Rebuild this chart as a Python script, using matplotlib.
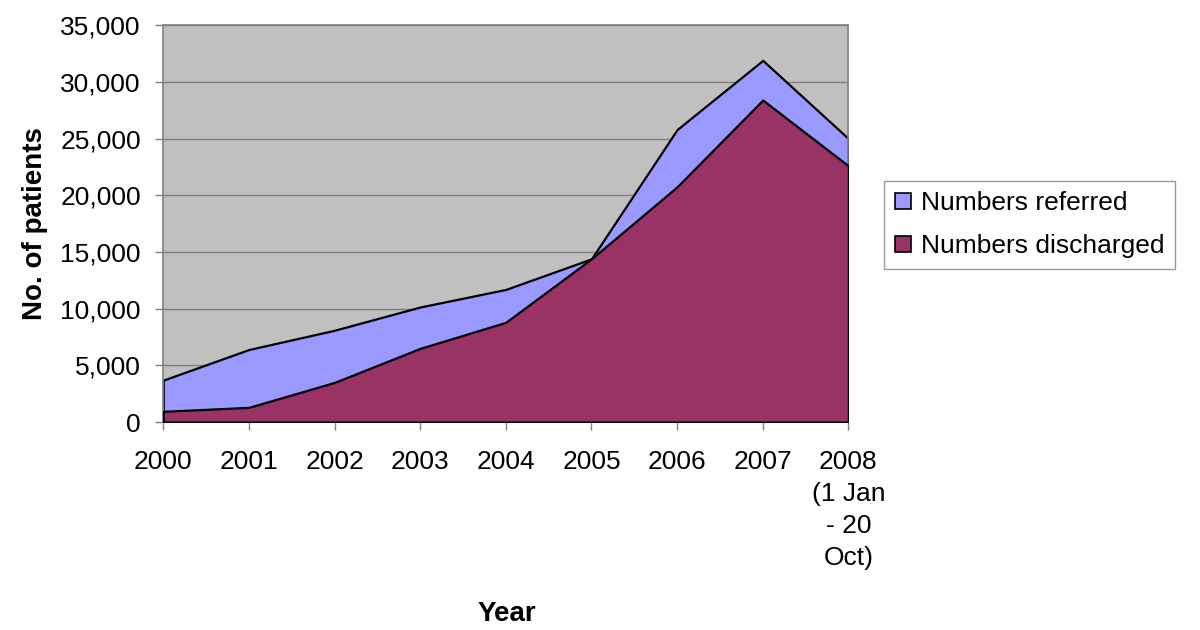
import matplotlib
matplotlib.use("Agg")
import matplotlib.pyplot as plt
from matplotlib.ticker import FuncFormatter
from matplotlib.patches import Patch

# data
years = [2000, 2001, 2002, 2003, 2004, 2005, 2006, 2007, 2008]
year_labels = ["2000", "2001", "2002", "2003", "2004", "2005", "2006", "2007",
               "2008\n(1 Jan\n- 20\nOct)"]
referred = [3700, 6400, 8100, 10150, 11700, 14400, 25800, 31900, 25000]
discharged = [950, 1300, 3500, 6500, 8800, 14400, 20750, 28400, 22600]

plt.rcParams['font.family'] = ['Liberation Sans', 'DejaVu Sans']

fig = plt.figure(figsize=(12, 6.3), dpi=100)
ax = fig.add_axes([0.136, 0.330, 0.571, 0.630])
ax.set_facecolor('#C0C0C0')

ax.fill_between(years, referred, 0, facecolor='#9999FF', edgecolor='black',
                linewidth=1.6, zorder=2)
ax.fill_between(years, discharged, 0, facecolor='#993366', edgecolor='black',
                linewidth=1.6, zorder=3)

ax.set_xlim(2000, 2008)
ax.set_ylim(0, 35000)
ax.set_yticks(range(0, 35001, 5000))
ax.yaxis.set_major_formatter(FuncFormatter(lambda v, p: f"{int(v):,}"))
ax.set_xticks(years)
ax.set_xticklabels(year_labels, linespacing=1.42)
ax.grid(axis='y', color='#808080', linewidth=1, zorder=1)
ax.set_axisbelow(True)

for s in ['top', 'right', 'left', 'bottom']:
    ax.spines[s].set_color('#808080')
    ax.spines[s].set_linewidth(1.2)
ax.tick_params(axis='both', colors='#808080', labelcolor='black', labelsize=19,
               length=6, width=1, direction='out')
ax.tick_params(axis='x', pad=14)
ax.tick_params(axis='y', pad=10)

ax.set_ylabel('No. of patients', fontsize=20, fontweight='bold', labelpad=9)
fig.text(0.422, 0.015, 'Year', fontsize=20, fontweight='bold', ha='center')

handles = [Patch(facecolor='#9999FF', edgecolor='black', linewidth=1.2),
           Patch(facecolor='#993366', edgecolor='black', linewidth=1.2)]
leg = fig.legend(handles, ['Numbers referred', 'Numbers discharged'],
                 loc='upper left', bbox_to_anchor=(0.737, 0.713),
                 fontsize=19, frameon=True, fancybox=False,
                 handlelength=0.6, handleheight=0.6, handletextpad=0.4,
                 borderpad=0.4, labelspacing=0.72, borderaxespad=0)
leg.get_frame().set_edgecolor('#808080')
leg.get_frame().set_linewidth(1)

fig.savefig('out.png', dpi=100)
